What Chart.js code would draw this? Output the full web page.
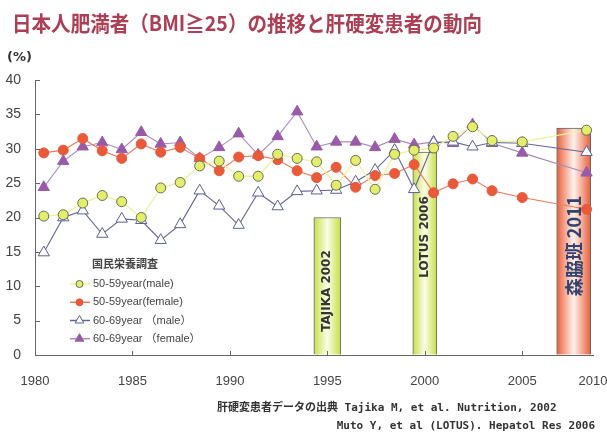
<!DOCTYPE html>
<html>
<head>
<meta charset="utf-8">
<script src="https://cdn.jsdelivr.net/npm/chart.js@4.4.0/dist/chart.umd.min.js"></script>
<style>
  html, body { margin: 0; padding: 0; background: #fff; }
</style>
</head>
<body>
<canvas id="obesityChart" width="607" height="432"></canvas>
<script>
// 国民栄養調査: yearly surveys 1980-2003, then 2005 and 2010
var years = [1980, 1981, 1982, 1983, 1984, 1985, 1986, 1987, 1988, 1989,
             1990, 1991, 1992, 1993, 1994, 1995, 1996, 1997, 1998, 1999,
             2000, 2001, 2002, 2003, 2005, 2010];
var male5059 = [20.2, 20.4, 22.1, 23.2, 22.3, 20.0, 24.3, 25.1, 27.5, 28.2,
                26.0, 26.0, 29.2, 28.6, 28.1, 24.7, 28.3, 24.1, 29.2, 29.8,
                30.1, 31.8, 33.2, 31.2, 31.0, 32.7];
var female5059 = [29.4, 29.8, 31.5, 29.7, 28.6, 30.7, 29.5, 30.2, 28.6, 26.8,
                  28.8, 29.0, 28.4, 26.8, 25.8, 27.3, 24.4, 26.1, 26.4, 27.7,
                  23.6, 24.9, 25.6, 23.9, 22.9, 21.2];
var male6069 = [14.9, 20.0, 21.0, 17.6, 19.8, 19.6, 16.7, 19.0, 23.9, 21.7,
                18.9, 23.6, 21.6, 23.8, 23.9, 24.0, 25.2, 26.9, 29.8, 24.1,
                30.9, 31.0, 30.3, 30.9, 30.8, 29.5];
var female6069 = [24.4, 28.2, 30.3, 30.9, 29.9, 32.4, 30.7, 30.9, 28.6, 30.2,
                  32.2, 29.1, 31.8, 35.4, 30.3, 31.0, 31.0, 30.2, 31.4, 30.6,
                  31.0, 30.8, 33.5, 30.8, 29.4, 26.5];
var seriesNames = ["50-59year(male)", "50-59year(female)", "60-69year （male）", "60-69year （female）"];

// cirrhosis studies shown as bars
var studyNames = ["TAJIKA 2002", "LOTUS 2006", "森脇班 2011"];
var studyYears = [1995, 2000, 2009];
var studyValues = [20, 29.5, 33];

var xTickYears = [1980, 1985, 1990, 1995, 2000, 2005, 2010];
var yTicks = [0, 5, 10, 15, 20, 25, 30, 35, 40];

// the axis runs at full pace up to 2005 and is squeezed after that
function axisPos(year) {
    return year <= 2005 ? year : 2005 + (year - 2005) * 0.66;
}
var xMax = axisPos(2010.5);

// yearly survey values sit in the middle of their year
function pointsOf(values) {
    return values.map(function (v, i) {
        var y = years[i];
        return { x: axisPos(y < 2005 ? y + 0.45 : y), y: v };
    });
}

var barStyles = [
    { thickness: 27, edge: "#c6df45", mid: "#fbfde8" },
    { thickness: 24, edge: "#c6df45", mid: "#fbfde8" },
    { thickness: 34, edge: "#e8603c", mid: "#fff2ec" }
];

function barFill(i) {
    return function (c) {
        var chart = c.chart;
        var st = barStyles[i];
        if (!chart.chartArea || !chart.scales.x) return st.edge;
        var cx = chart.scales.x.getPixelForValue(axisPos(studyYears[i]));
        var g = chart.ctx.createLinearGradient(cx - st.thickness / 2, 0, cx + st.thickness / 2, 0);
        g.addColorStop(0, st.edge);
        g.addColorStop(0.5, st.mid);
        g.addColorStop(1, st.edge);
        return g;
    };
}

var barSets = studyNames.map(function (name, i) {
    return {
        type: "bar",
        label: name,
        data: [{ x: axisPos(studyYears[i]), y: studyValues[i] }],
        backgroundColor: barFill(i),
        borderColor: "#666",
        borderWidth: 1,
        borderSkipped: "bottom",
        barThickness: barStyles[i].thickness,
        grouped: false,
        order: 10
    };
});

var lineSets = [
    {
        label: seriesNames[0], data: pointsOf(male5059),
        borderColor: "#eef39a", borderWidth: 1.3,
        pointStyle: "circle", pointRadius: 5,
        pointBackgroundColor: "#e3ef6a", pointBorderColor: "#6b6b55", pointBorderWidth: 1
    },
    {
        label: seriesNames[1], data: pointsOf(female5059),
        borderColor: "#ea7a5c", borderWidth: 1.1,
        pointStyle: "circle", pointRadius: 5,
        pointBackgroundColor: "#e85a3a", pointBorderColor: "#e85a3a", pointBorderWidth: 1
    },
    {
        label: seriesNames[2], data: pointsOf(male6069),
        borderColor: "#5f659c", borderWidth: 1.1,
        pointStyle: "triangle", pointRadius: 6.5,
        pointBackgroundColor: "#ffffff", pointBorderColor: "#5a6098", pointBorderWidth: 1
    },
    {
        label: seriesNames[3], data: pointsOf(female6069),
        borderColor: "#a88cb8", borderWidth: 1.1,
        pointStyle: "triangle", pointRadius: 6.5,
        pointBackgroundColor: "#9a5aaa", pointBorderColor: "#9a5aaa", pointBorderWidth: 1
    }
];
lineSets.forEach(function (d) {
    d.type = "line";
    d.tension = 0;
    d.fill = false;
    d.order = 1;
    d.clip = 8;
});

// titles, in-plot legend, study captions and sources
var decorations = {
    id: "decorations",
    afterDatasetsDraw: function (chart) {
        var ctx = chart.ctx;
        var xs = chart.scales.x;
        var labelY = [291, 237, 246];
        ctx.save();
        studyNames.forEach(function (name, i) {
            var cx = xs.getPixelForValue(axisPos(studyYears[i]));
            ctx.save();
            ctx.translate(cx, labelY[i]);
            ctx.rotate(-Math.PI / 2);
            ctx.textAlign = "center";
            ctx.textBaseline = "middle";
            if (i === 2) {
                ctx.font = "bold 18px 'Noto Sans CJK JP', 'DejaVu Sans'";
                ctx.fillStyle = "#34406e";
            } else {
                ctx.font = "bold 12px 'DejaVu Sans'";
                ctx.fillStyle = "#333";
            }
            ctx.fillText(name, 0, 0);
            ctx.restore();
        });
        ctx.restore();
    },
    afterDraw: function (chart) {
        var ctx = chart.ctx;
        var a = chart.chartArea;
        var xs = chart.scales.x, ys = chart.scales.y;
        ctx.save();

        // inward tick marks
        ctx.strokeStyle = "#666";
        ctx.lineWidth = 1;
        ctx.beginPath();
        yTicks.forEach(function (v) {
            var py = Math.round(ys.getPixelForValue(v)) + 0.5;
            ctx.moveTo(a.left, py);
            ctx.lineTo(a.left + 5, py);
        });
        xTickYears.slice(1, -1).forEach(function (y) {
            var px = Math.round(xs.getPixelForValue(axisPos(y))) + 0.5;
            ctx.moveTo(px, a.bottom);
            ctx.lineTo(px, a.bottom - 4);
        });
        ctx.stroke();

        ctx.textBaseline = "middle";
        ctx.textAlign = "left";
        ctx.fillStyle = "#ad3f55";
        ctx.font = "bold 21px 'Noto Sans CJK JP'";
        ctx.fillText("日本人肥満者（BMI≧25）の推移と肝硬変患者の動向", 12, 23, 470);

        ctx.fillStyle = "#333";
        ctx.font = "bold 13px 'DejaVu Sans'";
        ctx.fillText("(%)", 7, 58);

        // legend
        ctx.font = "bold 11px 'Noto Sans CJK JP'";
        ctx.fillStyle = "#444";
        ctx.fillText("国民栄養調査", 92, 264);
        var rows = [284, 302.3, 320.5, 338.7];
        lineSets.forEach(function (d, i) {
            var ry = rows[i];
            ctx.strokeStyle = d.borderColor;
            ctx.lineWidth = 1.5;
            ctx.beginPath();
            ctx.moveTo(70, ry);
            ctx.lineTo(90, ry);
            ctx.stroke();
            ctx.fillStyle = d.pointBackgroundColor;
            ctx.strokeStyle = d.pointBorderColor;
            ctx.lineWidth = 1;
            Chart.helpers.drawPoint(ctx, {
                pointStyle: d.pointStyle,
                radius: d.pointStyle === "circle" ? 3.5 : 5,
                rotation: 0,
                borderWidth: 1
            }, 79.5, ry);
            ctx.fillStyle = "#444";
            ctx.font = "11px 'Liberation Sans', 'Noto Sans CJK JP'";
            ctx.fillText(seriesNames[i], 93, ry);
        });

        // sources
        ctx.fillStyle = "#333";
        ctx.font = "bold 11px 'DejaVu Sans Mono', 'Noto Sans CJK JP'";
        ctx.fillText("肝硬変患者データの出典 Tajika M, et al. Nutrition, 2002", 217, 408, 364);
        ctx.textAlign = "right";
        ctx.fillText("Muto Y, et al (LOTUS). Hepatol Res 2006", 595, 426);
        ctx.restore();
    }
};

var ctx = document.getElementById("obesityChart").getContext("2d");
var chart = new Chart(ctx, {
    type: "line",
    data: { datasets: barSets.concat(lineSets) },
    options: {
        responsive: false,
        animation: false,
        devicePixelRatio: 1,
        layout: { padding: { top: 80, left: 0, right: 14, bottom: 37 } },
        plugins: {
            legend: { display: false },
            tooltip: { enabled: false }
        },
        scales: {
            x: {
                type: "linear",
                min: 1980,
                max: xMax,
                offset: false,
                grid: { drawOnChartArea: false, drawTicks: false },
                border: { color: "#666", width: 1 },
                afterBuildTicks: function (axis) {
                    axis.ticks = xTickYears.map(function (y) {
                        return { value: y === 2010 ? xMax : axisPos(y) };
                    });
                },
                afterFit: function (axis) {
                    axis.height = 40;
                    axis.paddingLeft = 0;
                    axis.paddingRight = 0;
                },
                ticks: {
                    autoSkip: false,
                    maxRotation: 0,
                    padding: 19,
                    color: "#444",
                    font: { family: "'Liberation Sans'", size: 13 },
                    callback: function (v, i) { return String(xTickYears[i]); }
                }
            },
            y: {
                min: 0,
                max: 40,
                grid: { drawOnChartArea: false, drawTicks: false },
                border: { color: "#666", width: 1 },
                afterFit: function (axis) {
                    axis.width = 35;
                    axis.paddingTop = 0;
                    axis.paddingBottom = 0;
                },
                ticks: {
                    stepSize: 5,
                    padding: 14,
                    color: "#444",
                    font: { family: "'Liberation Sans'", size: 14 }
                }
            }
        }
    },
    plugins: [decorations]
});
</script>
</body>
</html>
